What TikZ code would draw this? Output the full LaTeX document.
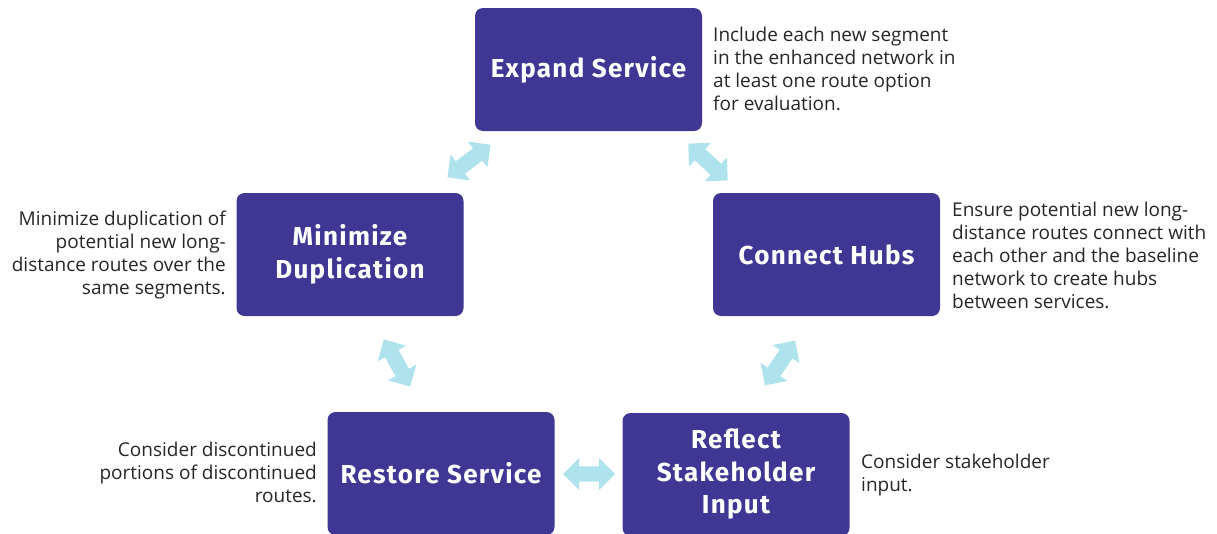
\documentclass[tikz,border=0pt]{standalone}
\usepackage{fontspec}
\setmainfont{Open Sans}
\newfontfamily\titlefont[LetterSpace=5]{Fira Sans}
\usetikzlibrary{shapes.arrows}
\definecolor{boxc}{HTML}{3F3793}
\definecolor{arrc}{HTML}{AEE2EC}
\tikzset{
  stepbox/.style={rectangle, rounded corners=8pt, fill=boxc, text=white,
    minimum width=227pt, minimum height=123pt, align=center, inner sep=0pt,
    font=\titlefont\bfseries\fontsize{26}{32.5}\selectfont},
  note/.style={inner sep=0pt, font=\fontsize{19}{23}\selectfont, text=black!85},
  dblarrow/.style={double arrow, fill=arrc, draw=none, inner xsep=0pt, inner ysep=7.5pt,
    double arrow head extend=8.5pt, minimum height=54pt}
}
\begin{document}
\begin{tikzpicture}[x=1pt,y=-1pt]
\useasboundingbox (0,0) rectangle (1217,533);
\node[stepbox] (expand) at (588.5,69.5) {Expand Service};
\node[stepbox] (minimize) at (350,254.5) {Minimize\\Duplication};
\node[stepbox] (hubs) at (826.5,254.5) {Connect Hubs};
\node[stepbox] (restore) at (441,473.5) {Restore Service};
\node[stepbox] (reflect) at (736,474.5) {Reflect\\Stakeholder\\Input};

\node[dblarrow, rotate=37] (a1) at (469,161) {};
\node[dblarrow, rotate=-43] (a2) at (708,162) {};
\node[dblarrow, rotate=-61] (a3) at (397,363) {};
\node[dblarrow, rotate=56] (a4) at (780,363) {};
\node[dblarrow, minimum height=52pt] (a5) at (589,474) {};

\node[note, anchor=north west, align=left] (t1) at (713,26.5)
  {Include each new segment\\in the enhanced network in\\at least one route option\\for evaluation.};
\node[note, anchor=north west, align=left] (t2) at (952,201.5)
  {Ensure potential new long-\\distance routes connect with\\each other and the baseline\\network to create hubs\\between services.};
\node[note, anchor=north east, align=right] (t3) at (226,210.5)
  {Minimize duplication of\\potential new long-\\distance routes over the\\same segments.};
\node[note, anchor=north east, align=right] (t4) at (317,441.5)
  {Consider discontinued\\portions of discontinued\\routes.};
\node[note, anchor=north west, align=left] (t5) at (861,453.5)
  {Consider stakeholder\\input.};
\end{tikzpicture}
\end{document}
